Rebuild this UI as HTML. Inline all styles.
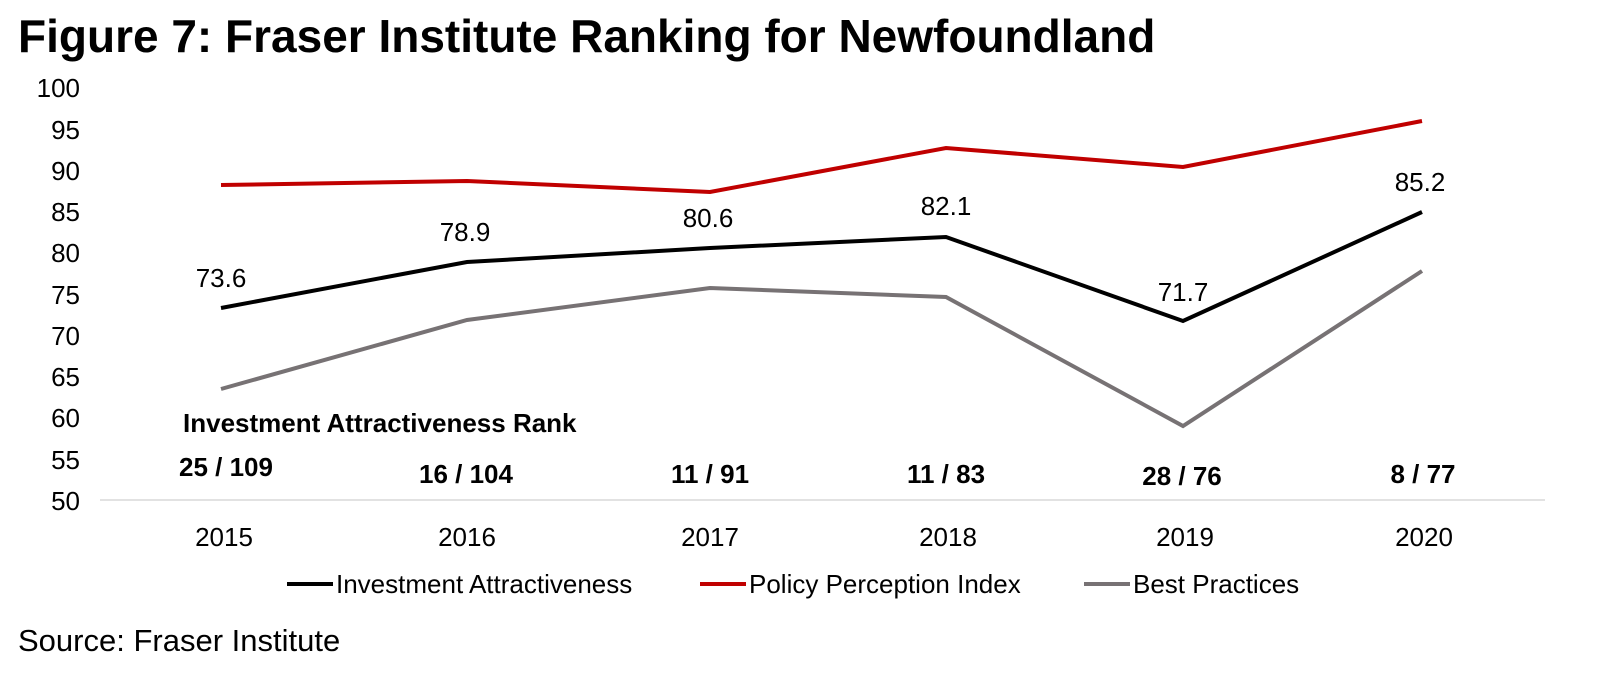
<!DOCTYPE html>
<html><head><meta charset="utf-8"><style>
body{margin:0;background:#fff;}
svg{display:block;font-family:"Liberation Sans",Arial,sans-serif;}
</style></head><body>
<svg width="1597" height="681" viewBox="0 0 1597 681">
<text x="18" y="52" font-size="46" font-weight="bold" fill="#000">Figure 7: Fraser Institute Ranking for Newfoundland</text>
<g font-size="26" fill="#000" text-anchor="end">
<text x="80" y="97">100</text>
<text x="80" y="139">95</text>
<text x="80" y="180">90</text>
<text x="80" y="221">85</text>
<text x="80" y="262">80</text>
<text x="80" y="304">75</text>
<text x="80" y="345">70</text>
<text x="80" y="386">65</text>
<text x="80" y="427">60</text>
<text x="80" y="469">55</text>
<text x="80" y="510">50</text>
</g>
<line x1="100" y1="500" x2="1545" y2="500" stroke="#d9d9d9" stroke-width="1.5"/>
<g font-size="26" fill="#000" text-anchor="middle">
<text x="224" y="546">2015</text><text x="467" y="546">2016</text><text x="710" y="546">2017</text>
<text x="948" y="546">2018</text><text x="1185" y="546">2019</text><text x="1424" y="546">2020</text>
</g>
<polyline fill="none" stroke="#c00000" stroke-width="4" points="221,185 467,181 710,192 946,148 1183,167 1422,121"/>
<polyline fill="none" stroke="#777274" stroke-width="4" points="221,389 467,320 710,288 946,297 1183,426 1422,271"/>
<polyline fill="none" stroke="#000" stroke-width="4" points="221,308 467,262 710,248 946,237 1183,321 1422,212"/>
<g font-size="26" fill="#000" text-anchor="middle">
<text x="221" y="287">73.6</text><text x="465" y="241">78.9</text><text x="708" y="227">80.6</text>
<text x="946" y="215">82.1</text><text x="1183" y="301">71.7</text><text x="1420" y="191">85.2</text>
</g>
<text x="183" y="432" font-size="26" font-weight="bold">Investment Attractiveness Rank</text>
<g font-size="26" font-weight="bold" text-anchor="middle">
<text x="226" y="476">25 / 109</text><text x="466" y="483">16 / 104</text><text x="710" y="483">11 / 91</text>
<text x="946" y="483">11 / 83</text><text x="1182" y="485">28 / 76</text><text x="1423" y="483">8 / 77</text>
</g>
<g font-size="26" fill="#000">
<line x1="287" y1="584" x2="333" y2="584" stroke="#000" stroke-width="4"/>
<text x="336" y="593">Investment Attractiveness</text>
<line x1="700" y1="584" x2="746" y2="584" stroke="#c00000" stroke-width="4"/>
<text x="749" y="593">Policy Perception Index</text>
<line x1="1084" y1="584" x2="1130" y2="584" stroke="#777274" stroke-width="4"/>
<text x="1133" y="593">Best Practices</text>
</g>
<text x="18" y="651" font-size="31" fill="#000">Source: Fraser Institute</text>
</svg>
</body></html>
